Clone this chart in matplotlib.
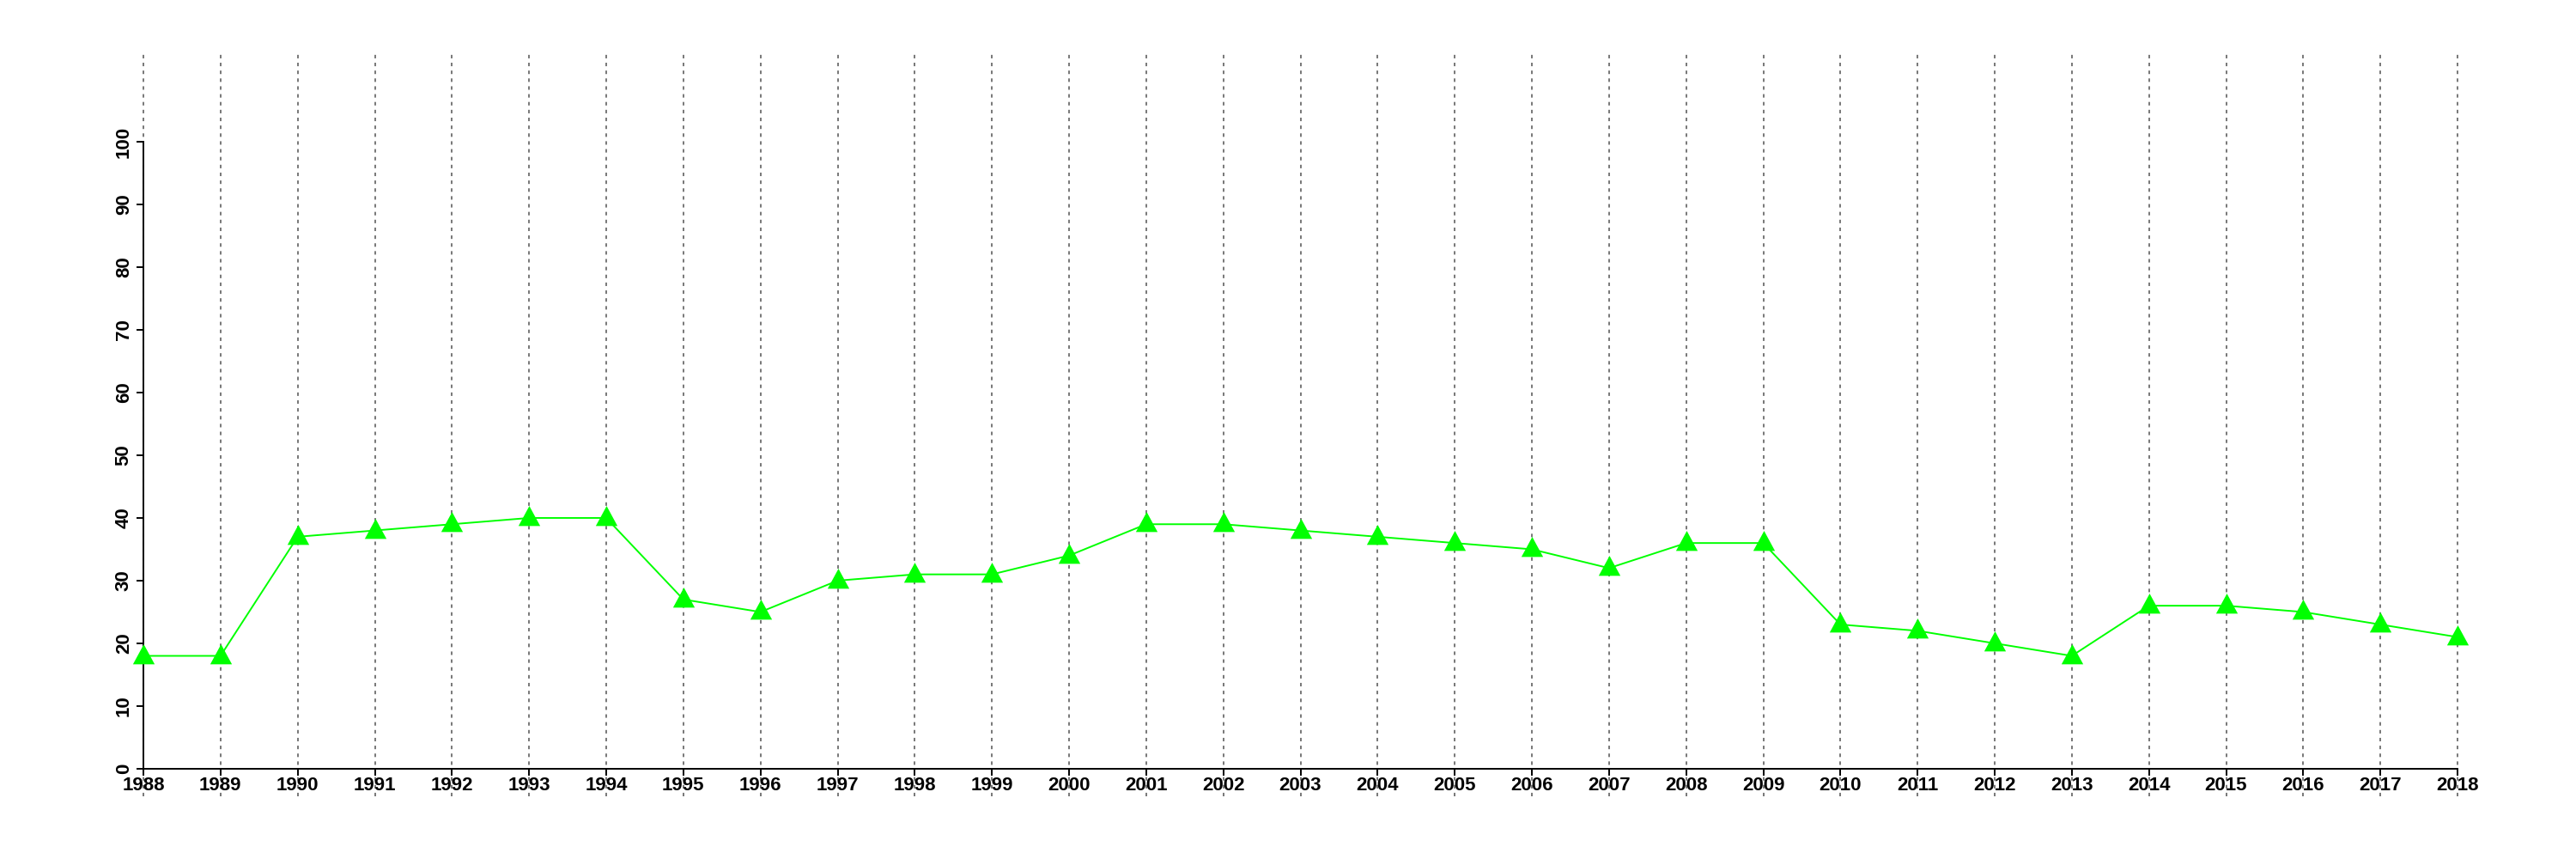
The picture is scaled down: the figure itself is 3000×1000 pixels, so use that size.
import matplotlib
matplotlib.use("Agg")
import matplotlib.pyplot as plt

years = list(range(1988, 2019))
values = [18, 18, 37, 38, 39, 40, 40, 27, 25, 30, 31, 31, 34, 39, 39, 38,
          37, 36, 35, 32, 36, 36, 23, 22, 20, 18, 26, 26, 25, 23, 21]
y_ticks = list(range(0, 101, 10))

plt.rcParams['font.family'] = ['Liberation Sans', 'DejaVu Sans']

# filled triangle whose data point sits a bit below the middle, like R's pch 17
tri = [(0, 0.62), (-0.543, -0.38), (0.543, -0.38), (0, 0.62)]


def draw_chart():
    fig = plt.figure(figsize=(30, 10), dpi=100)
    # plot region in pixels: x 59..2970, y 60..927
    ax = fig.add_axes([59.2 / 3000, 73 / 1000, (2969.8 - 59.2) / 3000, 867 / 1000])

    ax.set_xlim(1986.8, 2019.2)
    ax.set_ylim(-4.4, 114.4)

    for yr in years:
        ax.axvline(yr, color='#777777', lw=1.4, linestyle=(0, (2.1, 2.6)), zorder=1)

    ax.plot(years, values, color='#00ff00', lw=1.4, zorder=3)
    ax.plot(years, values, linestyle='none', marker=tri, markersize=20.8,
            markerfacecolor='#00ff00', markeredgewidth=0, zorder=4)

    for side in ['top', 'right']:
        ax.spines[side].set_visible(False)
    ax.spines['left'].set_position(('data', 1988))
    ax.spines['bottom'].set_position(('data', 0))
    ax.spines['left'].set_bounds(0, 100)
    ax.spines['bottom'].set_bounds(1988, 2018)
    ax.spines['left'].set_linewidth(1.4)
    ax.spines['bottom'].set_linewidth(1.4)

    ax.set_xticks(years)
    ax.set_xticklabels([str(y) for y in years])
    ax.set_yticks(y_ticks)
    ax.set_yticklabels([str(v) for v in y_ticks], rotation=90, va='center')

    ax.tick_params(axis='x', direction='out', length=5.5, width=1.4, pad=1,
                   labelsize=16)
    ax.tick_params(axis='y', direction='out', length=5.8, width=1.4, pad=3,
                   labelsize=16)
    for lab in ax.get_xticklabels() + ax.get_yticklabels():
        lab.set_fontweight('bold')

    fig.savefig("out.png", dpi=100, facecolor='white')


if __name__ == "__main__":
    draw_chart()
